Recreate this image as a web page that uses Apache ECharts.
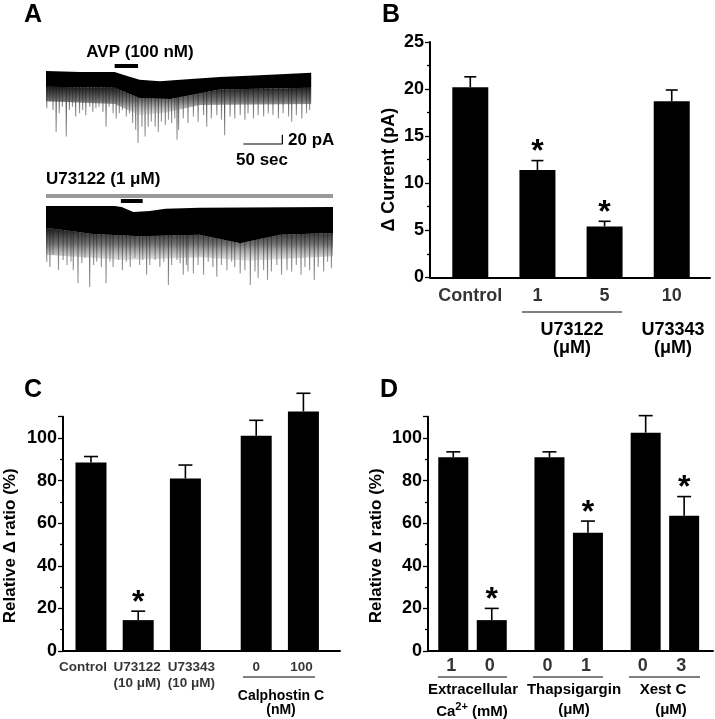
<!DOCTYPE html>
<html>
<head>
<meta charset="utf-8">
<script src="https://cdn.jsdelivr.net/npm/echarts@6/dist/echarts.min.js"></script>
<style>
html, body { margin: 0; padding: 0; background: #fff; }
#chart { width: 715px; height: 719px; }
</style>
</head>
<body>
<div id="chart"></div>
<script>
// ---- panel A: current traces, time (s) vs current (pA, relative to baseline)
var trace1Top = [[0,0],[44,-2],[88,-2],[101,-9],[120,-19],[146,-22],[172,-19],[223,-13],[274,-9],[340,-4]];
var trace1Band = [[0,-34],[88,-36],[120,-58],[159,-60],[223,-40],[340,-36]];
var trace1Fringe = [[0,-65],[88,-71],[120,-95],[153,-90],[197,-73],[340,-71]];
var trace1Spikes = [[1,-80],[5,-66],[9,-84],[13,-131],[17,-91],[21,-77],[26,-141],[30,-84],[34,-77],[38,-98],[43,-91],[47,-84],[51,-95],[56,-77],[60,-88],[64,-80],[68,-77],[73,-88],[77,-120],[81,-77],[86,-91],[90,-102],[94,-91],[98,-84],[103,-98],[107,-91],[111,-112],[115,-127],[118,-155],[123,-120],[127,-141],[131,-120],[135,-109],[140,-120],[144,-131],[148,-109],[153,-116],[157,-105],[161,-112],[165,-102],[168,-148],[170,-127],[176,-102],[182,-112],[189,-98],[195,-109],[202,-95],[206,-120],[212,-102],[219,-95],[225,-105],[229,-138],[236,-98],[242,-102],[249,-95],[255,-105],[259,-91],[266,-102],[272,-95],[279,-98],[285,-91],[291,-95],[298,-102],[304,-91],[311,-98],[315,-109],[321,-95],[328,-102],[334,-91],[338,-84]];
var trace2Top = [[0,0],[88,0],[97,-2],[112,-13],[133,-11],[153,-6],[197,-4],[368,-2]];
var trace2Band = [[0,-47],[60,-60],[121,-65],[197,-62],[249,-80],[300,-62],[368,-58]];
var trace2Fringe = [[0,-105],[100,-116],[200,-110],[260,-118],[368,-108]];
var trace2Spikes = [[1,-120],[5,-131],[9,-105],[16,-138],[22,-116],[27,-127],[32,-120],[35,-138],[41,-166],[46,-123],[50,-112],[56,-174],[61,-127],[65,-120],[71,-131],[77,-166],[82,-120],[86,-131],[93,-116],[98,-138],[103,-120],[108,-131],[114,-112],[120,-127],[124,-116],[129,-148],[133,-127],[140,-116],[146,-131],[151,-120],[157,-170],[161,-127],[168,-116],[172,-123],[176,-148],[180,-127],[182,-141],[189,-145],[195,-127],[202,-148],[208,-120],[214,-131],[219,-152],[225,-127],[232,-138],[238,-120],[242,-131],[249,-145],[255,-138],[262,-170],[268,-141],[272,-155],[279,-138],[284,-159],[289,-141],[296,-127],[302,-148],[309,-138],[315,-141],[321,-127],[327,-148],[332,-131],[338,-138],[344,-159],[349,-131],[356,-141],[361,-120],[366,-134]];
var avp1 = [88, 118];      // AVP application, trace 1 (s)
var avp2 = [96, 124];      // AVP application, trace 2 (s)
var u73122Span = [0, 368]; // U73122 perfusion, trace 2 (s)
var scaleSec = 50, scalePA = 20;

// ---- panel B
var labelsB = ['Control', '1', '5', '10'];
var valuesB = [20.2, 11.4, 5.4, 18.7];
var errB = [1.1, 1.0, 0.55, 1.2];
var sigB = [0, 1, 1, 0];

// ---- panel C
var labelsC = ['Control', 'U73122\n(10 \u03bcM)', 'U73343\n(10 \u03bcM)', '0', '100'];
var valuesC = [88.5, 14.5, 81, 101, 112.5];
var errC = [2.8, 4.2, 6.3, 7.3, 8.5];
var sigC = [0, 1, 0, 0, 0];

// ---- panel D
var labelsD = ['1', '0', '0', '1', '0', '3'];
var valuesD = [91, 14.5, 91, 55.5, 102.5, 63.5];
var errD = [2.5, 5.5, 2.5, 5.5, 8, 9];
var sigD = [0, 1, 0, 1, 0, 1];

// layout
var posB = [1, 2, 3, 4];
var posC = [1, 2, 3, 4.5, 5.5];
var posD = [1, 2, 3.5, 4.5, 6, 7];
var FONT = "'Liberation Sans', Arial, sans-serif";

var chart = echarts.init(document.getElementById('chart'));

function polyItem(upper, lower, fill) {
    return function (params, api) {
        var pts = [];
        upper.forEach(function (p) { pts.push(api.coord(p)); });
        lower.slice().reverse().forEach(function (p) { pts.push(api.coord(p)); });
        return { type: 'polygon', shape: { points: pts }, style: { fill: fill } };
    };
}

function spikeItem(params, api) {
    var a = api.coord([api.value(0), -30]);
    var b = api.coord([api.value(0), api.value(1)]);
    return {
        type: 'line',
        shape: { x1: a[0], y1: a[1], x2: b[0], y2: b[1] },
        style: {
            stroke: new echarts.graphic.LinearGradient(a[0], a[1], b[0], b[1], [
                { offset: 0, color: '#111' }, { offset: 0.45, color: '#555' }, { offset: 1, color: '#a0a0a0' }
            ], true),
            lineWidth: 1.2
        }
    };
}

function errItem(cap) {
    return function (params, api) {
        var x = api.value(0), v = api.value(1), e = api.value(2), s = api.value(3);
        var base = api.coord([x, v]);
        var top = api.coord([x, v + e]);
        var kids = [
            { type: 'line', shape: { x1: top[0], y1: base[1], x2: top[0], y2: top[1] }, style: { stroke: '#000', lineWidth: 1.6 } },
            { type: 'line', shape: { x1: top[0] - cap / 2, y1: top[1], x2: top[0] + cap / 2, y2: top[1] }, style: { stroke: '#000', lineWidth: 1.6 } }
        ];
        if (s) {
            kids.push({ type: 'text', x: top[0], y: top[1] - 8, style: { text: '*', fontSize: 32, fontWeight: 'bold', fontFamily: FONT, fill: '#000', align: 'center', verticalAlign: 'middle' } });
        }
        return { type: 'group', children: kids };
    };
}

function barSet(idx, pos, vals, errs, sigs, labels, width, cap, fontSize, lblGap, lblOffsets) {
    return [
        {
            type: 'bar', xAxisIndex: idx, yAxisIndex: idx, barWidth: width, clip: false,
            itemStyle: { color: '#000' },
            data: pos.map(function (p, i) { return [p, vals[i]]; })
        },
        {
            type: 'custom', xAxisIndex: idx, yAxisIndex: idx, clip: false, z: 5,
            renderItem: errItem(cap),
            data: pos.map(function (p, i) { return [p, vals[i], errs[i], sigs[i]]; })
        },
        {
            type: 'scatter', xAxisIndex: idx, yAxisIndex: idx, symbolSize: 0, clip: false, silent: true,
            data: pos.map(function (p, i) {
                return {
                    value: [p, 0],
                    label: {
                        show: true, position: 'bottom', distance: lblGap, formatter: labels[i],
                        offset: [lblOffsets ? lblOffsets[i] : 0, 0],
                        color: '#000', fontFamily: FONT, fontWeight: 'bold', fontSize: fontSize, lineHeight: fontSize + 2
                    }
                };
            })
        }
    ];
}

function xAx(idx, min, max) {
    return {
        type: 'value', gridIndex: idx, min: min, max: max,
        axisLine: { show: true, onZero: false, lineStyle: { color: '#000', width: 2 } },
        axisTick: { show: false }, axisLabel: { show: false }, splitLine: { show: false }
    };
}

function yAx(idx, max, interval, name, gap, pad, nameSize) {
    return {
        type: 'value', gridIndex: idx, min: 0, max: max, interval: interval,
        name: name, nameLocation: 'middle', nameGap: gap,
        nameTextStyle: { color: '#000', fontFamily: FONT, fontWeight: 'bold', fontSize: nameSize, padding: [0, pad, 0, 0] },
        axisLine: { show: true, lineStyle: { color: '#000', width: 2 } },
        axisTick: { show: true, length: 5, lineStyle: { color: '#000', width: 1.3 } },
        minorTick: { show: true, splitNumber: 2, length: 3, lineStyle: { color: '#000', width: 1.3 } },
        axisLabel: { color: '#000', fontFamily: FONT, fontWeight: 'bold', fontSize: 18, margin: 6, showMaxLabel: max % interval === 0 },
        splitLine: { show: false }
    };
}

function hidden(idx, min, max) {
    return { type: 'value', gridIndex: idx, min: min, max: max, show: false, splitLine: { show: false } };
}

var txt = function (x, y, text, size, align) {
    return { type: 'text', x: x, y: y, style: { text: text, fontSize: size, fontWeight: 'bold', fontFamily: FONT, fill: '#000', align: align || 'center', verticalAlign: 'middle' } };
};
var hline = function (x1, x2, y) {
    return { type: 'line', shape: { x1: x1, y1: y, x2: x2, y2: y }, style: { stroke: '#000', lineWidth: 1.2 } };
};

var fringeFill = new echarts.graphic.LinearGradient(0, 0, 0, 1, [
    { offset: 0, color: '#1a1a1a' }, { offset: 0.5, color: 'rgba(70,70,70,0.75)' }, { offset: 1, color: 'rgba(150,150,150,0.25)' }
]);

var series = [];
// trace 1 (grid 0)
series.push({ type: 'custom', xAxisIndex: 0, yAxisIndex: 0, clip: false, renderItem: spikeItem, data: trace1Spikes });
series.push({ type: 'custom', xAxisIndex: 0, yAxisIndex: 0, clip: false, renderItem: polyItem(trace1Band, trace1Fringe, fringeFill), data: [[0, 0]] });
series.push({ type: 'custom', xAxisIndex: 0, yAxisIndex: 0, clip: false, renderItem: polyItem(trace1Top, trace1Band, '#000'), data: [[0, 0]] });
series.push({ type: 'line', xAxisIndex: 0, yAxisIndex: 0, symbol: 'none', lineStyle: { color: '#000', width: 4 }, data: [[avp1[0], 11], [avp1[1], 11]] });
series.push({ type: 'line', xAxisIndex: 0, yAxisIndex: 0, symbol: 'none', lineStyle: { color: '#000', width: 1.2 },
    data: [[253, -157], [253 + scaleSec, -157], [253 + scaleSec, -157 + scalePA]] });
// trace 2 (grid 1)
series.push({ type: 'custom', xAxisIndex: 1, yAxisIndex: 1, clip: false, renderItem: spikeItem, data: trace2Spikes });
series.push({ type: 'custom', xAxisIndex: 1, yAxisIndex: 1, clip: false, renderItem: polyItem(trace2Band, trace2Fringe, fringeFill), data: [[0, 0]] });
series.push({ type: 'custom', xAxisIndex: 1, yAxisIndex: 1, clip: false, renderItem: polyItem(trace2Top, trace2Band, '#000'), data: [[0, 0]] });
series.push({ type: 'line', xAxisIndex: 1, yAxisIndex: 1, symbol: 'none', lineStyle: { color: '#999', width: 4 }, data: [[u73122Span[0], 21.5], [u73122Span[1], 21.5]] });
series.push({ type: 'line', xAxisIndex: 1, yAxisIndex: 1, symbol: 'none', lineStyle: { color: '#000', width: 4 }, data: [[avp2[0], 11], [avp2[1], 11]] });

series = series.concat(barSet(2, posB, valuesB, errB, sigB, labelsB, 36, 12, 18, 9, null));
series = series.concat(barSet(3, posC, valuesC, errC, sigC, labelsC, 31, 14, 13.5, 9, [-8, -1, 6, 0, -2]));
series = series.concat(barSet(4, posD, valuesD, errD, sigD, labelsD, 30, 14, 18, 5, [-2, -2, -2, -2, -3, -3]));

var option = {
    animation: false,
    grid: [
        { left: 46, top: 52.4, width: 265.2, height: 102.3 },
        { left: 46, top: 187.4, width: 287, height: 102.3 },
        { left: 430, top: 42, width: 280, height: 235.3 },
        { left: 63, top: 416.7, width: 277, height: 234.3 },
        { left: 428, top: 416.7, width: 285, height: 234.3 }
    ],
    xAxis: [
        hidden(0, 0, 340),
        hidden(1, 0, 368),
        xAx(2, 0.4, 4.57),
        xAx(3, 0.407, 6.275),
        xAx(4, 0.343, 7.75)
    ],
    yAxis: [
        hidden(0, -180, 40),
        hidden(1, -180, 40),
        yAx(2, 25, 5, '\u0394 Current (pA)', 32, 20, 18),
        yAx(3, 110, 20, 'Relative \u0394 ratio (%)', 44, 24, 17),
        yAx(4, 110, 20, 'Relative \u0394 ratio (%)', 43, 24, 17)
    ],
    series: series,
    graphic: [
        txt(33, 15, 'A', 25), txt(391, 15, 'B', 25), txt(33, 390, 'C', 25), txt(389, 390, 'D', 25),
        txt(140, 52, 'AVP (100 nM)', 17),
        txt(288, 140, '20 pA', 17, 'left'),
        txt(262, 160, '50 sec', 17),
        txt(46, 179, 'U73122 (1 \u03bcM)', 17, 'left'),
        hline(522, 622, 312),
        txt(572, 330, 'U73122', 18), txt(572, 348, '(\u03bcM)', 18),
        txt(673, 330, 'U73343', 18), txt(673, 348, '(\u03bcM)', 18),
        hline(243, 315, 677),
        txt(281, 696, 'Calphostin C', 14), txt(281, 710, '(nM)', 14),
        hline(438, 507, 677), hline(533, 603, 677), hline(629, 700, 677),
        txt(473, 690, 'Extracellular', 15),
        {
            type: 'text', x: 472, y: 710,
            style: {
                text: '{n|Ca}{s|2+}{n| (mM)}', align: 'center', verticalAlign: 'middle', fill: '#000',
                rich: {
                    n: { fontSize: 15, fontWeight: 'bold', fontFamily: FONT, lineHeight: 18, verticalAlign: 'bottom' },
                    s: { fontSize: 11, fontWeight: 'bold', fontFamily: FONT, lineHeight: 18, verticalAlign: 'top' }
                }
            }
        },
        txt(574, 690, 'Thapsigargin', 15), txt(574, 710, '(\u03bcM)', 15),
        txt(663, 690, 'Xest C', 15), txt(671, 710, '(\u03bcM)', 15)
    ]
};

chart.setOption(option);
</script>
</body>
</html>
